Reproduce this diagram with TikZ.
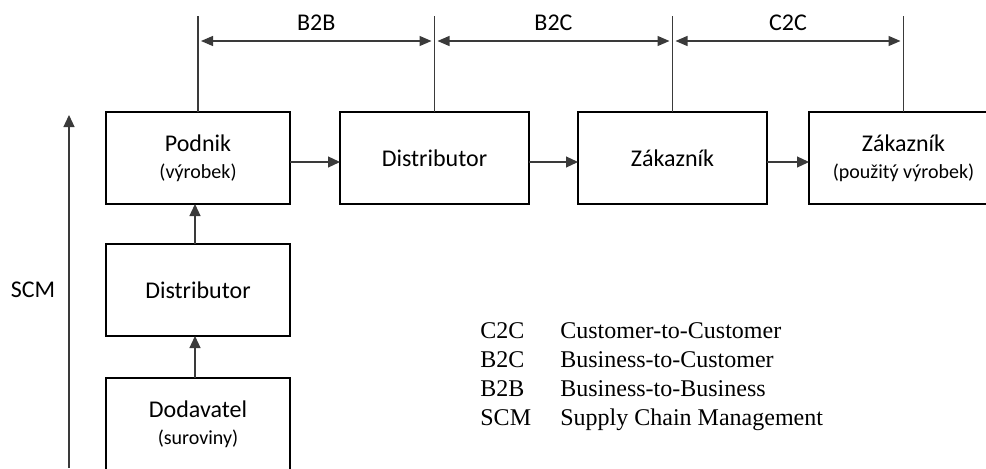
\documentclass[tikz,border=0pt]{standalone}
\usepackage{fontspec}
\setmainfont{Liberation Serif}
\setsansfont{Carlito}
\usetikzlibrary{arrows.meta,positioning,calc}
\definecolor{Line}{HTML}{3A3A3A}
\newcommand{\popis}[1]{{\fontsize{10}{12}\selectfont #1}}

\begin{document}
\begin{tikzpicture}[
  x=0.5pt,y=0.5pt,
  node distance=25pt,
  box/.style={draw,line width=1pt,minimum width=94.5pt,minimum height=46pt,inner sep=0pt,outer sep=0pt,align=center,font=\sffamily\fontsize{12}{13.5}\selectfont},
  narrow/.style={box,minimum width=92pt},
  tag/.style={font=\sffamily\fontsize{12}{14}\selectfont,inner sep=0pt,above=5pt},
  arrow/.style={-{Triangle[length=6pt,width=5.5pt]},line width=0.6pt,draw=Line},
  dim/.style={{Triangle[length=6pt,width=5pt]}-{Triangle[length=6pt,width=5pt]},line width=0.6pt,draw=Line,shorten <=1.5pt,shorten >=1.5pt},
  tick/.style={line width=0.6pt,draw=Line}
]
\clip (0,0) rectangle (986,468);

% horni rada
\node[narrow] (podnik) at (198,310) {Podnik\\\popis{(výrobek)}};
\node[box,right=25pt of podnik] (dist) {Distributor};
\node[box,right=24.5pt of dist] (zak) {Zákazník};
\node[box,right=21pt of zak] (zak2) {Zákazník\\\popis{(použitý výrobek)}};

% levy sloupec
\node[narrow,below=20pt of podnik] (dist2) {Distributor};
\node[narrow,below=21pt of dist2] (dod) {Dodavatel\\\popis{(suroviny)}};

\draw[arrow] ([yshift=-2pt]podnik.east) -- ([yshift=-2pt]dist.west);
\draw[arrow] ([yshift=-2pt]dist.east) -- ([yshift=-2pt]zak.west);
\draw[arrow] ([yshift=-2pt]zak.east) -- ([yshift=-2pt]zak2.west);
\draw[arrow] ([xshift=-1.5pt]dist2.north) -- ([xshift=-1.5pt]podnik.south);
\draw[arrow] ([xshift=-1.5pt]dod.north) -- ([xshift=-1.5pt]dist2.south);

% koty nahore
\coordinate (top) at (0,452);
\coordinate (dimy) at (0,427);
\draw[tick] (podnik.north) -- (podnik.north |- top);
\draw[tick] (dist.north) -- (dist.north |- top);
\draw[tick] (zak.north) -- (zak.north |- top);
\draw[tick] (zak2.north) -- (zak2.north |- top);
\draw[dim] (podnik.north |- dimy) -- node[tag] (b2b) {B2B} (dist.north |- dimy);
\draw[dim] (dist.north |- dimy) -- node[tag] (b2c) {B2C} (zak.north |- dimy);
\draw[dim] (zak.north |- dimy) -- node[tag] (c2c) {C2C} (zak2.north |- dimy);

% SCM
\coordinate (scm0) at (69,0);
\coordinate (scm1) at (69,353);
\draw[arrow] (scm0) -- (scm1);
\node[font=\sffamily\fontsize{12}{14}\selectfont] (scm) at (33,178) {SCM};

% legenda
\node[anchor=west,inner sep=0pt,font=\fontsize{12}{14.5}\selectfont] (legend) at (480,92) {%
  \begin{tabular}{@{}p{40pt}@{}l@{}}
    C2C & Customer-to-Customer\\
    B2C & Business-to-Customer\\
    B2B & Business-to-Business\\
    SCM & Supply Chain Management
  \end{tabular}};
\end{tikzpicture}
\end{document}
